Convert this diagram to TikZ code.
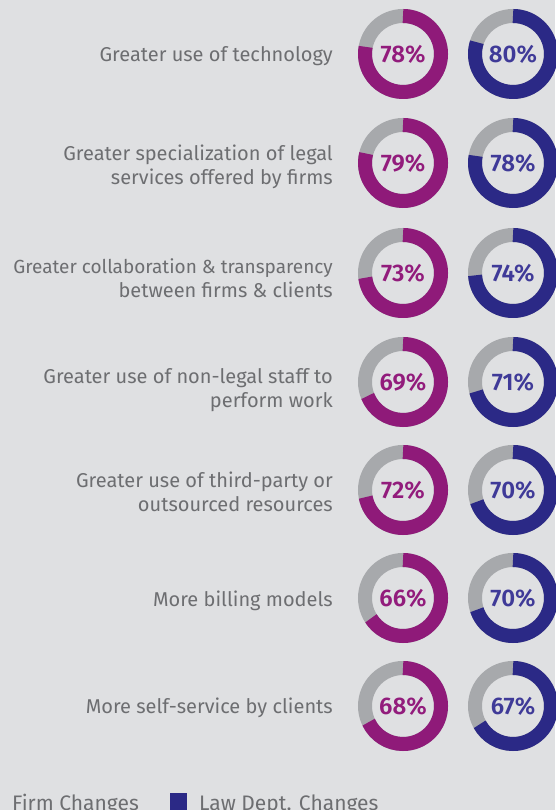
\documentclass[tikz,border=0pt]{standalone}
\usepackage{fontspec}
\setmainfont{Fira Sans}
\newfontfamily\pctfont{Fira Sans SemiBold}
\definecolor{bgcol}{HTML}{DFE0E2}
\definecolor{firmcol}{HTML}{8F1A79}
\definecolor{lawcol}{HTML}{2B2986}
\definecolor{firmtxt}{HTML}{921C7C}
\definecolor{lawtxt}{HTML}{3F3A98}
\definecolor{restcol}{HTML}{A7A9AC}
\definecolor{greytxt}{HTML}{6D6E71}
\tikzset{
  itemtext/.style={anchor=east, align=right, text=greytxt, inner sep=0pt,
    font=\fontsize{20}{24}\selectfont},
  pct/.style={inner sep=0pt, font=\fontsize{24}{24}\pctfont},
  ring/.style={line width=14pt},
  legendtext/.style={anchor=base west, inner sep=0pt, text=greytxt,
    font=\fontsize{21}{21}\selectfont},
}
\begin{document}
\begin{tikzpicture}[x=1pt,y=1pt]
  \fill[bgcol] (0,0) rectangle (555,810);
  \useasboundingbox (0,0) rectangle (555,810);
  % Rows
  \foreach \i/\y/\ly/\txt/\a/\b in {
      1/756/754/{Greater use of technology}/78/80,
      2/647/643/{Greater specialization of legal\\services offered by firms}/79/78,
      3/537/532/{\fontsize{19}{24}\selectfont Greater collaboration \& transparency\\between firms \& clients}/73/74,
      4/428/420/{Greater use of non-legal staff to\\perform work}/69/71,
      5/320/318.5/{Greater use of third-party or\\outsourced resources}/72/70,
      6/212/209/{More billing models}/66/70,
      7/104/102/{More self-service by clients}/68/67}{
    \node[itemtext] (lbl\i) at (333,\ly) {\txt};
    \node[pct, text=firmtxt] (firm\i) at (403,\y) {\a\%};
    \node[pct, text=lawtxt] (law\i) at (513,\y) {\b\%};
    % Donuts
    \draw[restcol, ring] (firm\i.center) circle (38);
    \draw[firmcol, ring] (firm\i.center) ++(90:38) arc[start angle=90, delta angle=-3.6*\a, radius=38];
    \draw[restcol, ring] (law\i.center) circle (38);
    \draw[lawcol, ring] (law\i.center) ++(90:38) arc[start angle=90, delta angle=-3.6*\b, radius=38];
  }
  % Legend
  \node[legendtext] (firmkey) at (12,-1) {Firm Changes};
  \fill[lawcol] (170,-1) rectangle (187,17);
  \node[legendtext] (lawkey) at (199,-1) {Law Dept. Changes};
\end{tikzpicture}
\end{document}
